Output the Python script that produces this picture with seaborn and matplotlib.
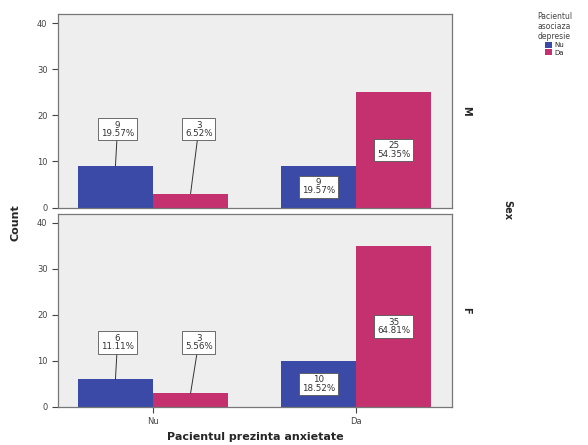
import pandas as pd
import numpy as np
import matplotlib
matplotlib.use("Agg")
import matplotlib.pyplot as plt
import seaborn as sns
from matplotlib.patches import Patch

# data
anxiety = ["Nu", "Da"]
depression = ["Nu", "Da"]
sexes = ["M", "F"]
counts_m = [9, 3, 9, 25]   # (anx Nu: dep Nu, dep Da), (anx Da: dep Nu, dep Da)
counts_f = [6, 3, 10, 35]

colors = {"Nu": "#3a4aa6", "Da": "#c5306e"}

rows = []
for sex, cnts in zip(sexes, [counts_m, counts_f]):
    i = 0
    for a in anxiety:
        for d in depression:
            rows.append({"Sex": sex, "Anx": a, "Dep": d, "Count": cnts[i]})
            i += 1
df = pd.DataFrame(rows)

sns.set_style("white")
plt.rcParams["font.family"] = ["DejaVu Sans"]

fig, axes = plt.subplots(2, 1, figsize=(5.88, 4.45), dpi=100, sharex=True)
fig.subplots_adjust(left=0.0986, right=0.769, top=0.9685, bottom=0.0854, hspace=0.031)

for ax, sex in zip(axes, sexes):
    sub = df[df["Sex"] == sex]
    sns.barplot(data=sub, x="Anx", y="Count", hue="Dep", order=anxiety,
                hue_order=depression, palette=colors, saturation=1, width=0.74,
                gap=0, edgecolor="none", linewidth=0, legend=False, ax=ax)
    ax.set_facecolor("#eeeeee")
    ax.set_ylim(0, 42)
    ax.set_xlim(-0.468, 1.473)
    ax.set_yticks([0, 10, 20, 30, 40])
    ax.tick_params(axis="y", labelsize=6, colors="#444444", length=4, width=0.8,
                   direction="out", left=True)
    ax.tick_params(axis="x", labelsize=6, colors="#444444", length=4, width=0.8,
                   direction="out", bottom=True)
    for s in ax.spines.values():
        s.set_color("#777777")
        s.set_linewidth(0.9)
    ax.set_xlabel("")
    ax.set_ylabel("")
    ax.text(1.035, 0.5, sex, transform=ax.transAxes, rotation=270,
            fontsize=7, fontweight="bold", ha="center", va="center")

    total = sub["Count"].sum()
    # outside labels share one height per panel, above the "Nu" group
    low_y = sub[sub["Anx"] == "Nu"]["Count"].max() + 8
    for container, dep in zip(ax.containers, depression):
        for rect, anx in zip(container, anxiety):
            c = rect.get_height()
            cx = rect.get_x() + rect.get_width() / 2
            txt = f"{int(c)}\n{c / total * 100:.2f}%"
            box = dict(boxstyle="square,pad=0.3", fc="white", ec="#555555", lw=0.6)
            if anx == "Da":
                ax.text(cx, c / 2, txt, ha="center", va="center", fontsize=6.3,
                        color="#333333", linespacing=0.9, bbox=box)
            else:
                tx = cx + (0.01 if dep == "Nu" else 0.04)
                ax.annotate(txt, xy=(cx, c), xytext=(tx, low_y),
                            ha="center", va="center", fontsize=6.3, color="#333333",
                            linespacing=0.9, bbox=box,
                            arrowprops=dict(arrowstyle="-", color="#333333", lw=0.7,
                                            shrinkA=0, shrinkB=0))

axes[0].tick_params(axis="x", labelbottom=False, bottom=False)
axes[1].set_xlabel("Pacientul prezinta anxietate", fontsize=8, fontweight="bold",
                   labelpad=4)
fig.text(0.026, 0.5, "Count", rotation=90, fontsize=8, fontweight="bold",
         ha="center", va="center")
fig.text(0.863, 0.527, "Sex", rotation=270, fontsize=7, fontweight="bold",
         ha="center", va="center")

handles = [Patch(facecolor=colors[d], edgecolor="none", label=d) for d in depression]
leg = fig.legend(handles=handles, title="Pacientul\nasociaza\ndepresie",
                 loc="upper center", bbox_to_anchor=(0.943, 0.985), frameon=False,
                 fontsize=5, title_fontsize=5.5, handlelength=1.0, handleheight=0.8,
                 handletextpad=0.3, labelspacing=0.15, borderpad=0.2)
leg.get_title().set_color("#444444")
leg.get_title().set_ha("center")

fig.savefig("out.png", dpi=100)
